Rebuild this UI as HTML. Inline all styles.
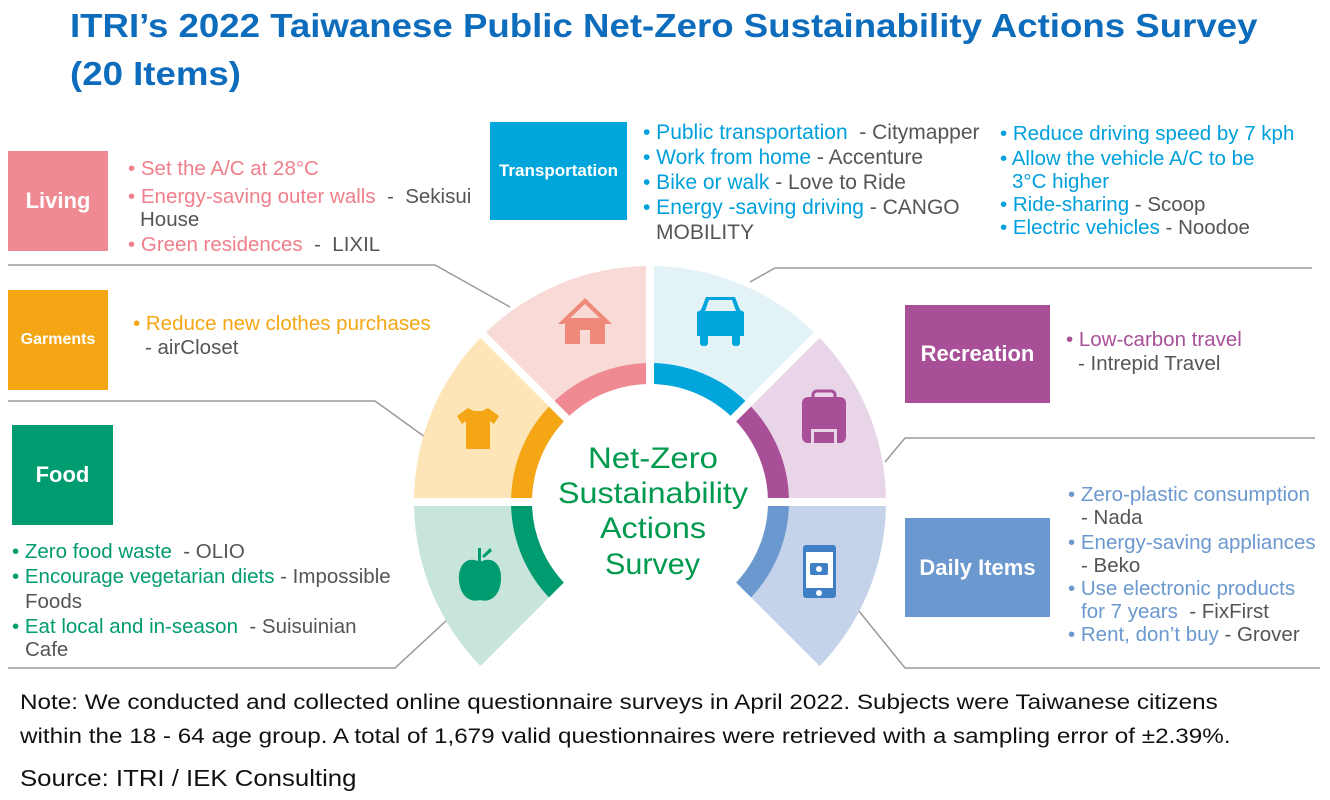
<!DOCTYPE html>
<html><head><meta charset="utf-8"><style>
body{margin:0;width:1330px;height:800px;background:#fff;position:relative;overflow:hidden;font-family:"Liberation Sans",sans-serif}
.t{position:absolute;white-space:nowrap;font-size:20.5px;line-height:22px;color:#555}
.tr{font-size:21px}
.h{position:absolute;font-weight:bold;color:#0e6cbc;font-size:33px;left:70px;white-space:nowrap;transform:scaleX(1.11);transform-origin:0 0}
.box{position:absolute;color:#fff;font-weight:bold;display:flex;align-items:center;justify-content:center}
</style></head><body>
<div class="h" style="top:7px">ITRI’s 2022 Taiwanese Public Net-Zero Sustainability Actions Survey</div>
<div class="h" style="top:55px">(20 Items)</div>

<svg width="1330" height="800" style="position:absolute;left:0;top:0" id="s">
<g stroke="#9a9a9a" stroke-width="1.5" fill="none">
<polyline points="8,265 435,265 510,307"/>
<polyline points="8,401 375,401 425,437"/>
<polyline points="8,668 395,668 447,620"/>
<polyline points="750,282 775,268 1312,268"/>
<polyline points="885,462 905,438 1315,438"/>
<polyline points="850,600 905,668 1320,668"/>
</g>
<g id="w"></g>
<g font-family="Liberation Sans" font-size="30" fill="#009a4e">
<text x="588" y="468" textLength="130" lengthAdjust="spacingAndGlyphs">Net-Zero</text>
<text x="558" y="503" textLength="190" lengthAdjust="spacingAndGlyphs">Sustainability</text>
<text x="600" y="538" textLength="106" lengthAdjust="spacingAndGlyphs">Actions</text>
<text x="605" y="574" textLength="95" lengthAdjust="spacingAndGlyphs">Survey</text>
</g>
<g fill="#ef8a7a"><polygon points="558,324 585,298 612,324 606,324 585,304 564,324"/><rect x="565" y="318" width="40" height="26"/><rect x="580" y="330" width="10" height="14" fill="#f8dad6"/></g>
<g fill="#00a5dc"><path d="M701,310 L706,297 L735,297 L740,310 L744,312 L744,336 L697,336 L697,312 Z"/><rect x="700" y="334" width="8" height="12" rx="3"/><rect x="732" y="334" width="8" height="12" rx="3"/><path d="M709,300 L732,300 L736,311 L705,311 Z" fill="#e3f2f7"/></g>
<g fill="#a84f97"><rect x="802" y="397" width="44" height="46" rx="6"/><rect x="813" y="391" width="22" height="10" rx="4" fill="none" stroke="#a84f97" stroke-width="3"/><rect x="811" y="429" width="26" height="14" fill="#e8d5e8"/><rect x="814" y="432" width="20" height="11" fill="#a84f97"/></g>
<g fill="#3f7fc6"><rect x="803" y="545" width="33" height="53" rx="3"/><rect x="806" y="552" width="27" height="36" fill="#fff"/><rect x="810" y="563" width="18" height="12" rx="2"/><circle cx="819" cy="569" r="3" fill="#fff"/><circle cx="819" cy="593" r="3" fill="#fff"/></g>
<g fill="#009b6f"><path d="M480,562 C467,555 458,565 459,580 C460,596 470,603 480,600 C490,603 500,596 501,580 C502,565 493,555 480,562 Z"/><rect x="478" y="548" width="3" height="14"/><path d="M482,556 L490,548 L492,551 L484,558 Z"/></g>
<g fill="#f4a614"><path d="M468,408 L474,411 L482,411 L488,408 L499,416 L494,424 L490,421 L490,449 L466,449 L466,421 L462,424 L457,416 Z"/></g>
</svg>

<div class="box" style="left:8px;top:151px;width:100px;height:100px;background:#ef8a93;font-size:22px">Living</div>
<div class="box" style="left:8px;top:290px;width:100px;height:100px;background:#f4a614;font-size:16px">Garments</div>
<div class="box" style="left:12px;top:425px;width:101px;height:100px;background:#009b6f;font-size:22px">Food</div>
<div class="box" style="left:490px;top:122px;width:137px;height:98px;background:#00a5dc;font-size:17px">Transportation</div>
<div class="box" style="left:905px;top:305px;width:145px;height:98px;background:#a84f97;font-size:22px">Recreation</div>
<div class="box" style="left:905px;top:518px;width:145px;height:99px;background:#6b98cf;font-size:22px">Daily Items</div>

<div class="t" style="left:128px;top:158px;color:#ef7f8a">• Set the A/C at 28°C</div>
<div class="t" style="left:128px;top:186px;color:#ef7f8a">• Energy-saving outer walls <span style="color:#555">&nbsp;-&nbsp; Sekisui</span></div>
<div class="t" style="left:140px;top:209px">House</div>
<div class="t" style="left:128px;top:234px;color:#ef7f8a">• Green residences <span style="color:#555">&nbsp;-&nbsp; LIXIL</span></div>
<div class="t" style="left:133px;top:313px;color:#f4a614">• Reduce new clothes purchases</div>
<div class="t" style="left:145px;top:337px">- airCloset</div>

<div class="t" style="left:12px;top:541px;color:#009b6f">• Zero food waste <span style="color:#555">&nbsp;- OLIO</span></div>
<div class="t" style="left:12px;top:566px;color:#009b6f">• Encourage vegetarian diets <span style="color:#555">- Impossible</span></div>
<div class="t" style="left:25px;top:591px">Foods</div>
<div class="t" style="left:12px;top:616px;color:#009b6f">• Eat local and in-season <span style="color:#555">&nbsp;- Suisuinian</span></div>
<div class="t" style="left:25px;top:639px">Cafe</div>

<div class="t tr" style="left:643px;top:122px;color:#00a0dc">• Public transportation <span style="color:#555">&nbsp;- Citymapper</span></div>
<div class="t tr" style="left:643px;top:147px;color:#00a0dc">• Work from home <span style="color:#555">- Accenture</span></div>
<div class="t tr" style="left:643px;top:172px;color:#00a0dc">• Bike or walk<span style="color:#555"> - Love to Ride</span></div>
<div class="t tr" style="left:643px;top:197px;color:#00a0dc">• Energy -saving driving <span style="color:#555">- CANGO</span></div>
<div class="t tr" style="left:656px;top:222px">MOBILITY</div>

<div class="t" style="left:1000px;top:123px;color:#00a0dc">• Reduce driving speed by 7 kph</div>
<div class="t" style="left:1000px;top:148px;color:#00a0dc">• Allow the vehicle A/C to be</div>
<div class="t" style="left:1012px;top:171px;color:#00a0dc">3°C higher</div>
<div class="t" style="left:1000px;top:194px;color:#00a0dc">• Ride-sharing <span style="color:#555">- Scoop</span></div>
<div class="t" style="left:1000px;top:217px;color:#00a0dc">• Electric vehicles <span style="color:#555">- Noodoe</span></div>

<div class="t" style="left:1066px;top:329px;color:#a84f97">• Low-carbon travel</div>
<div class="t" style="left:1078px;top:353px">- Intrepid Travel</div>

<div class="t" style="left:1068px;top:484px;color:#6b98cf">• Zero-plastic consumption</div>
<div class="t" style="left:1081px;top:507px">- Nada</div>
<div class="t" style="left:1068px;top:532px;color:#6b98cf">• Energy-saving appliances</div>
<div class="t" style="left:1081px;top:555px">- Beko</div>
<div class="t" style="left:1068px;top:578px;color:#6b98cf">• Use electronic products</div>
<div class="t" style="left:1081px;top:601px;color:#6b98cf">for 7 years <span style="color:#555">&nbsp;- FixFirst</span></div>
<div class="t" style="left:1068px;top:624px;color:#6b98cf">• Rent, don’t buy <span style="color:#555">- Grover</span></div>

<div class="t" style="left:20px;top:692px;color:#111;font-size:21px;transform:scaleX(1.155);transform-origin:0 0">Note: We conducted and collected online questionnaire surveys in April 2022. Subjects were Taiwanese citizens</div>
<div class="t" style="left:20px;top:726px;color:#111;font-size:21px;transform:scaleX(1.155);transform-origin:0 0">within the 18 - 64 age group. A total of 1,679 valid questionnaires were retrieved with a sampling error of ±2.39%.</div>
<div class="t" style="left:20px;top:767px;color:#111;font-size:23px;transform:scaleX(1.12);transform-origin:0 0">Source: ITRI / IEK Consulting</div>

<script>
var cx=650,cy=502,R=236,r1=139,r0=118,NS="http://www.w3.org/2000/svg";
var g=document.getElementById("w");
function p(a,rad){a=a*Math.PI/180;return (cx+rad*Math.cos(a)).toFixed(1)+","+(cy-rad*Math.sin(a)).toFixed(1);}
function sec(a0,a1,ri,ro,f){var d="M"+p(a0,ri)+" L"+p(a0,ro)+" A"+ro+","+ro+" 0 0 0 "+p(a1,ro)+" L"+p(a1,ri)+" A"+ri+","+ri+" 0 0 1 "+p(a0,ri)+"Z";
var e=document.createElementNS(NS,"path");e.setAttribute("d",d);e.setAttribute("fill",f);g.appendChild(e);}
var S=[[90,135,"#f8dad6","#ef8a93"],[45,90,"#e3f2f7","#00a5dc"],[0,45,"#e8d5e8","#a84f97"],[-45,0,"#c4d2ea","#6b98cf"],[180,225,"#c8e5dc","#009b6f"],[135,180,"#fde5b8","#f4a614"]];
S.forEach(function(s){sec(s[0],s[1],r1,R,s[2]);sec(s[0],s[1],r0,r1,s[3]);});
[-45,0,45,90,135,180,225].forEach(function(a){var l=document.createElementNS(NS,"line");var a1=p(a,r0-5).split(","),a2=p(a,R+5).split(",");
l.setAttribute("x1",a1[0]);l.setAttribute("y1",a1[1]);l.setAttribute("x2",a2[0]);l.setAttribute("y2",a2[1]);l.setAttribute("stroke","#fff");l.setAttribute("stroke-width","8");g.appendChild(l);});
</script>
</body></html>
